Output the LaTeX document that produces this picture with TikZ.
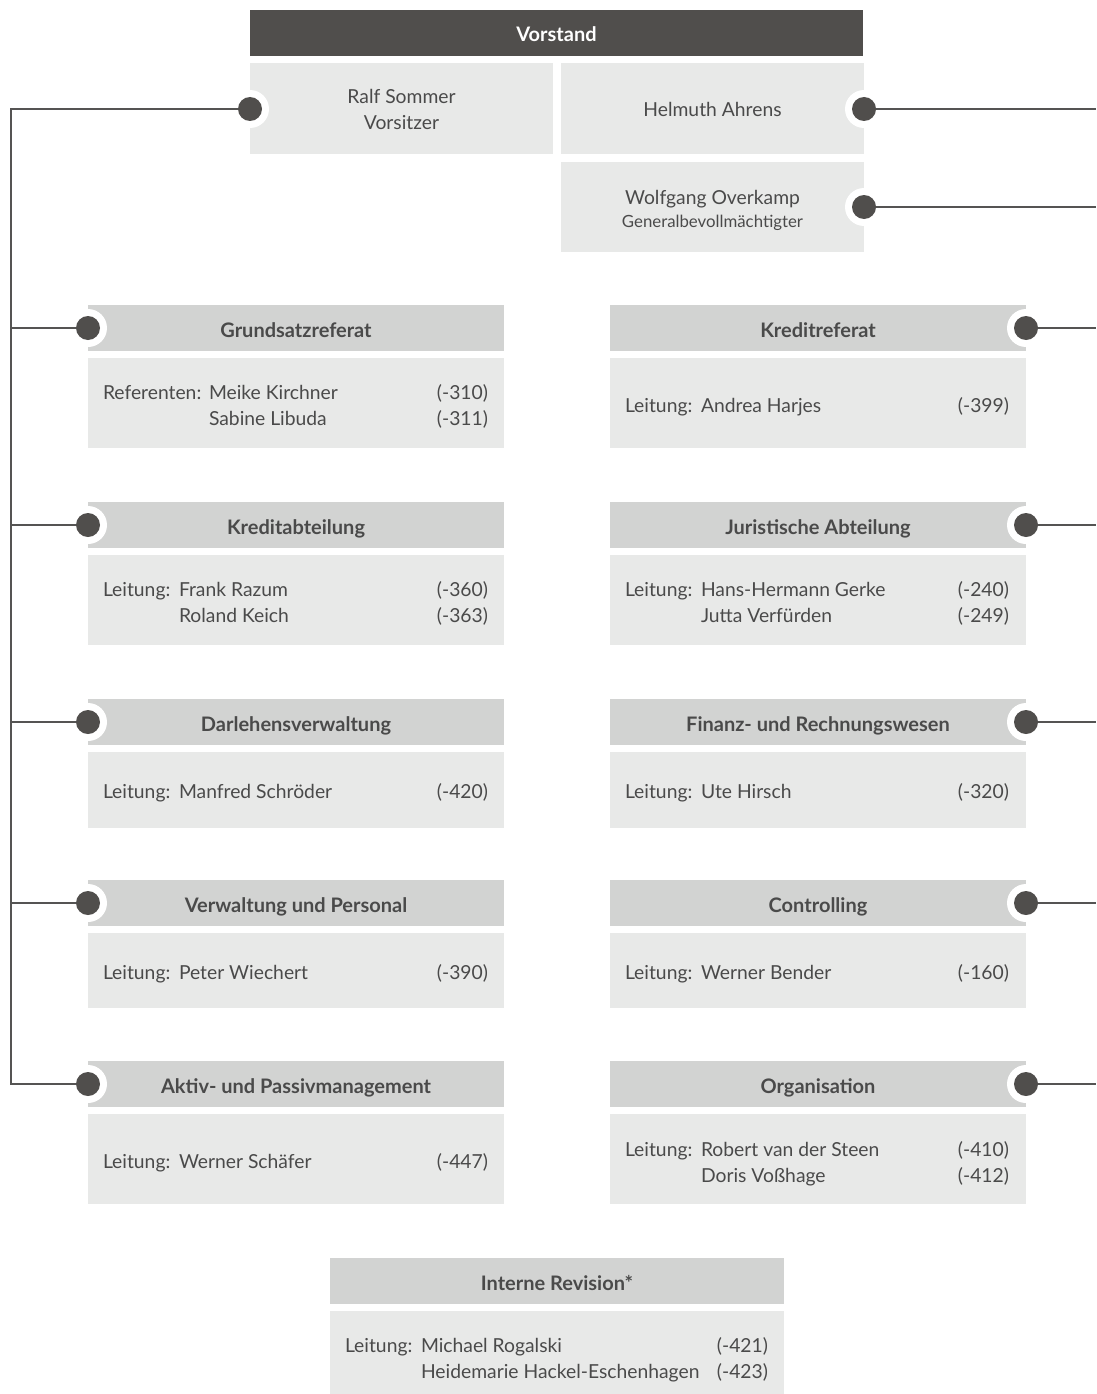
\documentclass[tikz,border=0pt]{standalone}
\usepackage{fontspec}
\setmainfont{Lato}
\definecolor{dark}{HTML}{504E4C}
\definecolor{hdrgray}{HTML}{D2D3D2}
\definecolor{bodygray}{HTML}{E8E9E8}
\definecolor{txt}{HTML}{4A4A4A}
\definecolor{linec}{HTML}{555453}
\pgfdeclarelayer{boxes}\pgfdeclarelayer{rings}\pgfdeclarelayer{lines}
\pgfsetlayers{boxes,rings,lines,main}
\tikzset{
  every node/.style={inner sep=0pt, outer sep=0pt},
  bar/.style={fill=dark, anchor=north west, text=white, font=\bfseries\fontsize{20}{24}\selectfont, text height=18pt, text depth=0pt},
  hdr/.style={fill=hdrgray, anchor=north west, minimum height=46pt, text=txt, font=\bfseries\fontsize{20}{24}\selectfont, text height=18pt, text depth=0pt},
  bodyb/.style={fill=bodygray, anchor=north west},
  tx/.style={text=txt, font=\fontsize{19.3}{23}\selectfont, text height=14pt, text depth=0pt},
  txs/.style={text=txt, font=\fontsize{16.8}{20}\selectfont, text height=12pt, text depth=0pt},
  ring/.style={circle, fill=white, minimum size=38pt},
  dotn/.style={circle, fill=dark, minimum size=24pt},
  conn/.style={draw=linec, line width=2.6pt},
}
\newcommand\mkdept[6]{% id, xleft, ytop, title, bodyh, width
  \begin{pgfonlayer}{boxes}
  \node[hdr, minimum width=#6pt] (#1h) at (#2,#3) {#4};
  \node[bodyb, minimum width=#6pt, minimum height=#5pt] (#1b) at (#2,#3+53) {};
  \end{pgfonlayer}}
\newcommand\pline[8]{% id, labelx, namex, numx, y, label, name, num
  \node[tx, anchor=west] (#1l) at (#2,#5) {#6};
  \node[tx, anchor=west] (#1n) at (#3,#5) {#7};
  \node[tx, anchor=east] (#1p) at (#4,#5) {#8};}
\newcommand\qline[6]{% id, namex, numx, y, name, num
  \node[tx, anchor=west] (#1n) at (#2,#4) {#5};
  \node[tx, anchor=east] (#1p) at (#3,#4) {#6};}
\begin{document}
\begin{tikzpicture}[x=1pt, y=-1pt]
\useasboundingbox (0,0) rectangle (1096,1394);
% Vorstand
\begin{pgfonlayer}{boxes}
\node[bar, minimum width=613pt, minimum height=46pt] (vor) at (250,10) {Vorstand};
\node[bodyb, minimum width=303pt, minimum height=91pt] (ralf) at (250,63) {};
\node[bodyb, minimum width=303pt, minimum height=91pt] (helm) at (561,63) {};
\node[bodyb, minimum width=303pt, minimum height=90pt] (wolf) at (561,162) {};
\end{pgfonlayer}
\node[tx] (ralf1) at (401.5,97) {Ralf Sommer};
\node[tx] (ralf2) at (401.5,123) {Vorsitzer};
\node[tx] (helm1) at (712.5,110) {Helmuth Ahrens};
\node[tx] (wolf1) at (712.5,197) {Wolfgang Overkamp};
\node[txs] (wolf2) at (712.5,221) {Generalbevollmächtigter};

% departments
\mkdept{gr}{88}{305}{Grundsatzreferat}{90}{416}
\mkdept{kr}{610}{305}{Kreditreferat}{90}{416}
\mkdept{ka}{88}{502}{Kreditabteilung}{90}{416}
\mkdept{ja}{610}{502}{Juristische Abteilung}{90}{416}
\mkdept{dv}{88}{699}{Darlehensverwaltung}{76}{416}
\mkdept{fr}{610}{699}{Finanz- und Rechnungswesen}{76}{416}
\mkdept{vp}{88}{880}{Verwaltung und Personal}{75}{416}
\mkdept{co}{610}{880}{Controlling}{75}{416}
\mkdept{ap}{88}{1061}{Aktiv- und Passivmanagement}{90}{416}
\mkdept{or}{610}{1061}{Organisation}{90}{416}
\mkdept{ir}{330}{1258}{Interne Revision*}{83}{454}

% body texts
\pline{gr1}{103}{209}{488}{392}{Referenten:}{Meike Kirchner}{(-310)}
\qline{gr2}{209}{488}{418}{Sabine Libuda}{(-311)}
\pline{kr1}{625}{701}{1009}{405}{Leitung:}{Andrea Harjes}{(-399)}
\pline{ka1}{103}{179}{488}{589}{Leitung:}{Frank Razum}{(-360)}
\qline{ka2}{179}{488}{615}{Roland Keich}{(-363)}
\pline{ja1}{625}{701}{1009}{589}{Leitung:}{Hans-Hermann Gerke}{(-240)}
\qline{ja2}{701}{1009}{615}{Jutta Verfürden}{(-249)}
\pline{dv1}{103}{179}{488}{791}{Leitung:}{Manfred Schröder}{(-420)}
\pline{fr1}{625}{701}{1009}{791}{Leitung:}{Ute Hirsch}{(-320)}
\pline{vp1}{103}{179}{488}{972}{Leitung:}{Peter Wiechert}{(-390)}
\pline{co1}{625}{701}{1009}{972}{Leitung:}{Werner Bender}{(-160)}
\pline{ap1}{103}{179}{488}{1161}{Leitung:}{Werner Schäfer}{(-447)}
\pline{or1}{625}{701}{1009}{1149}{Leitung:}{Robert van der Steen}{(-410)}
\qline{or2}{701}{1009}{1175}{Doris Voßhage}{(-412)}
\pline{ir1}{345}{421}{768}{1345}{Leitung:}{Michael Rogalski}{(-421)}
\qline{ir2}{421}{768}{1371}{Heidemarie Hackel-Eschenhagen}{(-423)}

% dots
\node[dotn] (dR) at (250,109) {};
\node[dotn] (dH) at (864,109) {};
\node[dotn] (dW) at (864,207) {};
\node[dotn] (dl1) at (88,328) {};
\node[dotn] (dl2) at (88,525) {};
\node[dotn] (dl3) at (88,722) {};
\node[dotn] (dl4) at (88,903) {};
\node[dotn] (dl5) at (88,1084) {};
\node[dotn] (dr1) at (1026,328) {};
\node[dotn] (dr2) at (1026,525) {};
\node[dotn] (dr3) at (1026,722) {};
\node[dotn] (dr4) at (1026,903) {};
\node[dotn] (dr5) at (1026,1084) {};

% rings
\begin{pgfonlayer}{rings}
\foreach \d in {dR,dH,dW,dl1,dl2,dl3,dl4,dl5,dr1,dr2,dr3,dr4,dr5}
  \node[ring] (\d ring) at (\d.center) {};
\end{pgfonlayer}

% connectors
\coordinate (sTop) at (11,109);
\coordinate (sBot) at (11,1084);
\coordinate (s2) at (11,525);
\coordinate (s3) at (11,722);
\coordinate (s4) at (11,903);
\coordinate (s1) at (11,328);
\coordinate (eH) at (1096,109);
\coordinate (eW) at (1096,207);
\coordinate (e1) at (1096,328);
\coordinate (e2) at (1096,525);
\coordinate (e3) at (1096,722);
\coordinate (e4) at (1096,903);
\coordinate (e5) at (1096,1084);
\begin{pgfonlayer}{lines}
\draw[conn] (dR.center) -- (sTop) -- (sBot) -- (dl5.center);
\draw[conn] (s1) -- (dl1.center);
\draw[conn] (s2) -- (dl2.center);
\draw[conn] (s3) -- (dl3.center);
\draw[conn] (s4) -- (dl4.center);
\draw[conn] (dH.center) -- (eH);
\draw[conn] (dW.center) -- (eW);
\draw[conn] (dr1.center) -- (e1);
\draw[conn] (dr2.center) -- (e2);
\draw[conn] (dr3.center) -- (e3);
\draw[conn] (dr4.center) -- (e4);
\draw[conn] (dr5.center) -- (e5);
\end{pgfonlayer}
\end{tikzpicture}
\end{document}
